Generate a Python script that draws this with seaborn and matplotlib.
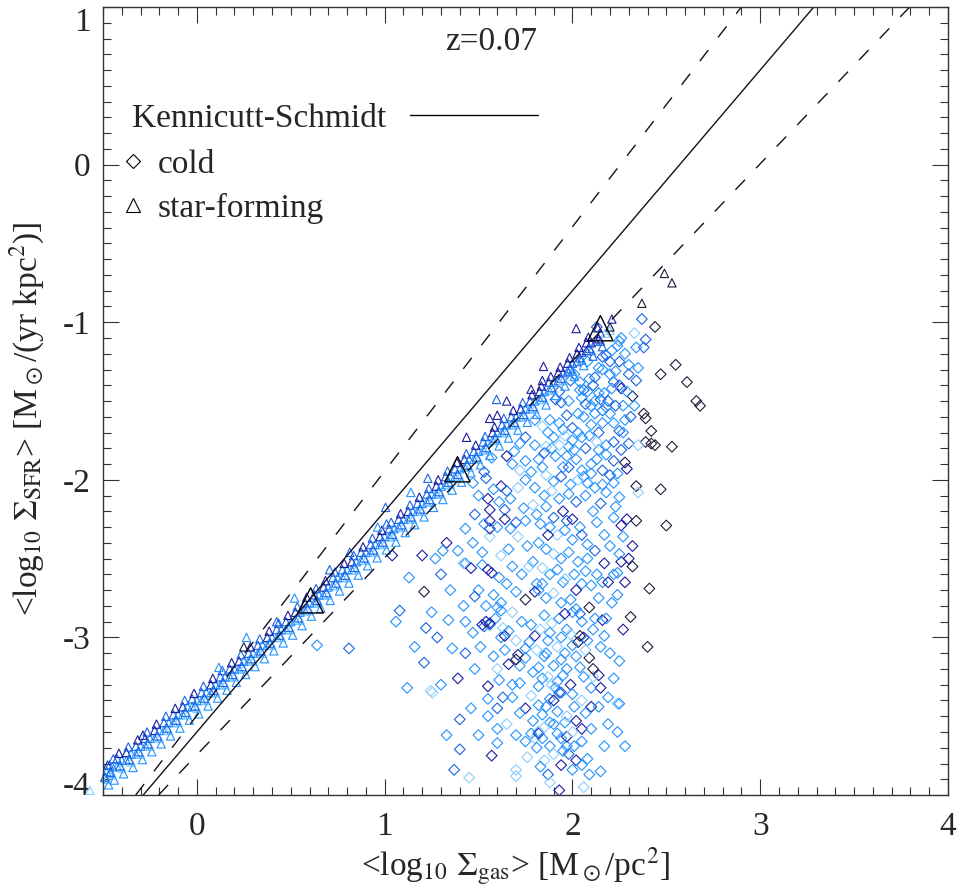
import matplotlib
matplotlib.use("Agg")
import matplotlib.pyplot as plt
from matplotlib.lines import Line2D
from matplotlib.ticker import MultipleLocator
import seaborn as sns
import pandas as pd

# colour shades used for the galaxies (light -> dark)
shade_colors = {0: "#8ccfff", 1: "#2293ff", 2: "#1a63e4", 3: "#1c1ca0", 4: "#1e1e3c"}

# Kennicutt-Schmidt relation: slope, intercept (plus the two bounding relations)
ks_slope, ks_icpt = 1.4, -3.6
ks_hi_slope, ks_hi_icpt = 1.55, -3.495
ks_lo_slope, ks_lo_icpt = 1.25, -3.745

# binned means of the star-forming gas
mean_x = [0.606, 1.388, 2.149]
mean_y = [-2.765, -1.933, -1.038]

# star-forming gas (x, y, shade)
sf_points = [
    (-0.57, -3.97, 0), (-0.49, -3.89, 1), (-0.475, -3.81, 3),
    (-0.48, -3.90, 0), (-0.48, -3.85, 1), (-0.465, -3.86, 1), (-0.465, -3.81, 2),
    (-0.45, -3.87, 0), (-0.45, -3.82, 1), (-0.425, -3.82, 1), (-0.425, -3.77, 2),
    (-0.40, -3.83, 0), (-0.40, -3.78, 1), (-0.375, -3.78, 1), (-0.375, -3.73, 3),
    (-0.35, -3.79, 0), (-0.35, -3.74, 1), (-0.325, -3.74, 1), (-0.325, -3.69, 2),
    (-0.30, -3.74, 0), (-0.30, -3.69, 1), (-0.275, -3.69, 1), (-0.275, -3.64, 2),
    (-0.25, -3.69, 0), (-0.25, -3.64, 1), (-0.225, -3.64, 1), (-0.225, -3.59, 3),
    (-0.20, -3.64, 0), (-0.20, -3.59, 1), (-0.175, -3.59, 1), (-0.175, -3.54, 2),
    (-0.15, -3.59, 0), (-0.15, -3.54, 1), (-0.125, -3.54, 1), (-0.125, -3.49, 2),
    (-0.10, -3.54, 0), (-0.10, -3.49, 1), (-0.075, -3.49, 1), (-0.075, -3.44, 3),
    (-0.05, -3.49, 0), (-0.05, -3.44, 1), (-0.025, -3.44, 1), (-0.025, -3.39, 2),
    (0.00, -3.45, 0), (0.00, -3.40, 1), (0.025, -3.40, 1), (0.025, -3.35, 2),
    (0.05, -3.40, 0), (0.05, -3.35, 1), (0.075, -3.35, 1), (0.075, -3.30, 3),
    (0.10, -3.35, 0), (0.10, -3.30, 1), (0.125, -3.30, 1), (0.125, -3.25, 2),
    (0.15, -3.30, 0), (0.15, -3.25, 1), (0.175, -3.25, 1), (0.175, -3.20, 2),
    (0.20, -3.25, 0), (0.20, -3.20, 1), (0.225, -3.20, 1), (0.225, -3.15, 3),
    (0.25, -3.20, 0), (0.25, -3.15, 1), (0.275, -3.15, 1), (0.275, -3.10, 2),
    (0.30, -3.15, 0), (0.30, -3.10, 1), (0.325, -3.10, 1), (0.325, -3.05, 2),
    (0.35, -3.10, 0), (0.35, -3.05, 1), (0.375, -3.05, 1), (0.375, -3.00, 3),
    (0.40, -3.05, 0), (0.40, -3.00, 1), (0.425, -3.00, 1), (0.425, -2.95, 2),
    (0.45, -3.00, 0), (0.45, -2.95, 1), (0.475, -2.95, 1), (0.475, -2.90, 2),
    (0.50, -2.95, 0), (0.50, -2.90, 1), (0.525, -2.89, 1), (0.525, -2.84, 3),
    (0.55, -2.89, 0), (0.55, -2.84, 1), (0.575, -2.83, 1), (0.575, -2.78, 2),
    (0.60, -2.83, 0), (0.60, -2.78, 1), (0.625, -2.78, 1), (0.625, -2.73, 2),
    (0.65, -2.78, 0), (0.65, -2.73, 1), (0.675, -2.73, 1), (0.675, -2.68, 3),
    (0.70, -2.73, 0), (0.70, -2.68, 1), (0.725, -2.67, 1), (0.725, -2.62, 2),
    (0.75, -2.67, 0), (0.75, -2.62, 1), (0.775, -2.62, 1), (0.775, -2.57, 2),
    (0.80, -2.62, 0), (0.80, -2.57, 1), (0.825, -2.57, 1), (0.825, -2.52, 3),
    (0.85, -2.57, 0), (0.85, -2.52, 1), (0.875, -2.51, 1), (0.875, -2.46, 2),
    (0.90, -2.51, 0), (0.90, -2.46, 1), (0.925, -2.46, 1), (0.925, -2.41, 2),
    (0.95, -2.46, 0), (0.95, -2.41, 1), (0.975, -2.41, 1), (0.975, -2.36, 3),
    (1.00, -2.41, 0), (1.00, -2.36, 1), (1.025, -2.36, 1), (1.025, -2.31, 2),
    (1.05, -2.36, 0), (1.05, -2.31, 1), (1.075, -2.30, 1), (1.075, -2.25, 2),
    (1.10, -2.30, 0), (1.10, -2.25, 1), (1.125, -2.25, 1), (1.125, -2.20, 3),
    (1.15, -2.25, 0), (1.15, -2.20, 1), (1.175, -2.20, 1), (1.175, -2.15, 2),
    (1.20, -2.20, 0), (1.20, -2.15, 1), (1.225, -2.14, 1), (1.225, -2.09, 2),
    (1.25, -2.14, 0), (1.25, -2.09, 1), (1.275, -2.09, 1), (1.275, -2.04, 3),
    (1.30, -2.09, 0), (1.30, -2.04, 1), (1.325, -2.03, 1), (1.325, -1.98, 2),
    (1.35, -2.03, 0), (1.35, -1.98, 1), (1.375, -1.98, 1), (1.375, -1.93, 2),
    (1.40, -1.98, 0), (1.40, -1.93, 1), (1.425, -1.92, 1), (1.425, -1.87, 3),
    (1.45, -1.92, 0), (1.45, -1.87, 1), (1.475, -1.87, 1), (1.475, -1.82, 2),
    (1.50, -1.87, 0), (1.50, -1.82, 1), (1.525, -1.81, 1), (1.525, -1.76, 2),
    (1.55, -1.81, 0), (1.55, -1.76, 1), (1.575, -1.75, 1), (1.575, -1.70, 3),
    (1.60, -1.75, 0), (1.60, -1.70, 1), (1.625, -1.70, 1), (1.625, -1.65, 2),
    (1.65, -1.70, 0), (1.65, -1.65, 1), (1.675, -1.65, 1), (1.675, -1.60, 2),
    (1.70, -1.65, 0), (1.70, -1.60, 1), (1.725, -1.60, 1), (1.725, -1.55, 3),
    (1.75, -1.60, 0), (1.75, -1.55, 1), (1.775, -1.55, 1), (1.775, -1.50, 2),
    (1.80, -1.55, 0), (1.80, -1.50, 1), (1.825, -1.49, 1), (1.825, -1.44, 3),
    (1.85, -1.49, 0), (1.85, -1.44, 1), (1.875, -1.43, 1), (1.875, -1.38, 2),
    (1.90, -1.43, 0), (1.90, -1.38, 1), (1.925, -1.37, 2), (1.925, -1.32, 3),
    (1.95, -1.37, 0), (1.95, -1.32, 2), (1.975, -1.31, 2), (1.975, -1.26, 3),
    (2.00, -1.31, 1), (2.00, -1.26, 2), (2.025, -1.25, 2), (2.025, -1.20, 3),
    (2.05, -1.24, 1), (2.05, -1.19, 2), (2.075, -1.18, 3), (2.075, -1.13, 3),
    (2.10, -1.18, 1), (2.10, -1.13, 3), (2.125, -1.12, 2), (2.15, -1.12, 2),
    (2.15, -1.07, 3), (2.20, -1.05, 0), (2.175, -1.07, 0),
    # lower and upper edges of the sequence
    (-0.47, -3.935, 1), (-0.445, -3.77, 2), (-0.49, -3.885, 2),
    (-0.44, -3.905, 1), (-0.415, -3.735, 3), (-0.46, -3.855, 2),
    (-0.39, -3.865, 1), (-0.365, -3.695, 2), (-0.41, -3.815, 2),
    (-0.34, -3.825, 1), (-0.315, -3.65, 3), (-0.36, -3.775, 2),
    (-0.29, -3.775, 1), (-0.265, -3.60, 2), (-0.31, -3.725, 2),
    (-0.24, -3.725, 1), (-0.215, -3.55, 3), (-0.26, -3.675, 2),
    (-0.19, -3.675, 1), (-0.165, -3.50, 2), (-0.21, -3.625, 2),
    (-0.14, -3.625, 1), (-0.115, -3.45, 3), (-0.16, -3.575, 2),
    (-0.09, -3.575, 1), (-0.065, -3.40, 2), (-0.11, -3.525, 2),
    (-0.04, -3.525, 1), (-0.015, -3.355, 3), (-0.06, -3.475, 2),
    (0.01, -3.485, 1), (0.035, -3.31, 2), (-0.01, -3.435, 2),
    (0.06, -3.435, 1), (0.085, -3.26, 3), (0.04, -3.385, 2),
    (0.11, -3.385, 1), (0.135, -3.21, 2), (0.09, -3.335, 2),
    (0.16, -3.335, 1), (0.185, -3.16, 3), (0.14, -3.285, 2),
    (0.21, -3.285, 1), (0.235, -3.11, 2), (0.19, -3.235, 2),
    (0.26, -3.235, 1), (0.285, -3.06, 3), (0.24, -3.185, 2),
    (0.31, -3.185, 1), (0.335, -3.01, 2), (0.29, -3.135, 2),
    (0.36, -3.135, 1), (0.385, -2.96, 3), (0.34, -3.085, 2),
    (0.41, -3.085, 1), (0.435, -2.91, 2), (0.39, -3.035, 2),
    (0.46, -3.035, 1), (0.485, -2.86, 3), (0.44, -2.985, 2),
    (0.51, -2.985, 1), (0.535, -2.805, 2), (0.49, -2.935, 2),
    (0.56, -2.925, 1), (0.585, -2.745, 3), (0.54, -2.875, 2),
    (0.61, -2.865, 1), (0.635, -2.69, 2), (0.59, -2.815, 2),
    (0.66, -2.815, 1), (0.685, -2.64, 3), (0.64, -2.765, 2),
    (0.71, -2.765, 1), (0.735, -2.585, 2), (0.69, -2.715, 2),
    (0.76, -2.705, 1), (0.785, -2.53, 3), (0.74, -2.655, 2),
    (0.81, -2.655, 1), (0.835, -2.48, 2), (0.79, -2.605, 2),
    (0.86, -2.605, 1), (0.885, -2.425, 3), (0.84, -2.555, 2),
    (0.91, -2.545, 1), (0.935, -2.37, 2), (0.89, -2.495, 2),
    (0.96, -2.495, 1), (0.985, -2.32, 3), (0.94, -2.445, 2),
    (1.01, -2.445, 1), (1.035, -2.27, 2), (0.99, -2.395, 2),
    (1.06, -2.395, 1), (1.085, -2.215, 3), (1.04, -2.345, 2),
    (1.11, -2.335, 1), (1.135, -2.16, 2), (1.09, -2.285, 2),
    (1.16, -2.285, 1), (1.185, -2.11, 3), (1.14, -2.235, 2),
    (1.21, -2.235, 1), (1.235, -2.055, 2), (1.19, -2.185, 2),
    (1.26, -2.175, 1), (1.285, -2.00, 3), (1.24, -2.125, 2),
    (1.31, -2.125, 1), (1.335, -1.945, 2), (1.29, -2.075, 2),
    (1.36, -2.065, 1), (1.385, -1.89, 3), (1.34, -2.015, 2),
    (1.41, -2.015, 1), (1.435, -1.835, 2), (1.39, -1.965, 2),
    (1.46, -1.955, 1), (1.485, -1.78, 3), (1.44, -1.905, 2),
    (1.51, -1.905, 1), (1.535, -1.725, 2), (1.49, -1.855, 2),
    (1.56, -1.845, 1), (1.585, -1.665, 3), (1.54, -1.795, 2),
    (1.61, -1.785, 1), (1.635, -1.61, 2), (1.59, -1.735, 2),
    (1.66, -1.735, 1), (1.685, -1.56, 3), (1.64, -1.685, 2),
    (1.71, -1.685, 1), (1.735, -1.51, 2), (1.69, -1.635, 2),
    (1.76, -1.635, 1), (1.785, -1.46, 3), (1.74, -1.585, 2),
    (1.81, -1.585, 1), (1.835, -1.405, 3), (1.79, -1.535, 2),
    (1.86, -1.525, 1), (1.885, -1.345, 3), (1.84, -1.475, 2),
    (1.91, -1.465, 1), (1.935, -1.285, 3), (1.89, -1.415, 2),
    (1.96, -1.405, 1), (1.985, -1.225, 3), (1.94, -1.355, 2),
    (2.01, -1.345, 1), (2.035, -1.16, 3), (1.99, -1.295, 2),
    (2.06, -1.275, 1), (2.085, -1.095, 3), (2.04, -1.225, 2),
    (2.11, -1.215, 2), (2.135, -1.035, 3), (2.09, -1.165, 2),
    (2.16, -1.155, 2), (2.14, -1.105, 3),
    # points lying above the main sequence
    (-0.287, -3.62, 3), (0.117, -3.19, 1), (0.25, -3.06, 4), (0.264, -3.00, 1),
    (0.425, -2.90, 2), (0.52, -2.75, 1), (0.707, -2.57, 2), (0.814, -2.46, 2),
    (0.963, -2.30, 1), (1.01, -2.28, 2), (1.005, -2.175, 2), (1.14, -2.08, 1),
    (1.23, -1.99, 2), (1.436, -1.73, 3), (1.559, -1.61, 3), (1.60, -1.59, 3),
    (1.596, -1.49, 2), (1.65, -1.50, 3), (1.78, -1.425, 3), (1.84, -1.37, 3),
    (1.846, -1.28, 3), (2.02, -1.04, 3), (2.21, -0.98, 3), (2.20, -1.03, 4),
    (2.37, -0.88, 4), (2.49, -0.69, 4), (2.53, -0.75, 4),
]

# cold gas (x, y, shade)
cold_points = [
    (2.37, -0.98, 2), (2.44, -1.03, 4), (2.33, -1.07, 0), (2.39, -1.11, 2), (2.38, -1.16, 2),
    (2.34, -1.16, 1), (2.26, -1.10, 1), (2.25, -1.12, 1), (2.24, -1.15, 1), (2.18, -1.21, 2),
    (2.16, -1.22, 2), (2.13, -1.03, 2), (2.08, -1.25, 1), (2.14, -1.29, 1), (2.20, -1.25, 2),
    (2.25, -1.25, 2), (2.23, -1.31, 1), (2.30, -1.27, 1), (2.35, -1.29, 1), (2.55, -1.27, 4),
    (2.47, -1.33, 4), (2.34, -1.37, 2), (2.61, -1.38, 4), (2.66, -1.50, 4), (2.68, -1.53, 4),
    (2.32, -1.47, 4), (2.27, -1.53, 1), (2.33, -1.53, 1), (2.25, -1.40, 2), (2.26, -1.42, 3),
    (2.22, -1.38, 2), (2.11, -1.40, 2), (2.09, -1.36, 1), (2.06, -1.43, 2), (2.05, -1.48, 1),
    (1.99, -1.37, 2), (2.04, -1.43, 1), (2.14, -1.45, 1), (2.15, -1.49, 2), (2.17, -1.45, 1),
    (2.19, -1.50, 2), (2.18, -1.54, 1), (2.16, -1.56, 2), (2.12, -1.50, 1), (2.10, -1.53, 1),
    (2.12, -1.58, 1), (2.07, -1.52, 2), (2.06, -1.60, 1), (2.00, -1.67, 2), (1.97, -1.59, 2),
    (1.94, -1.51, 2), (1.91, -1.49, 2), (2.22, -1.64, 1), (2.25, -1.69, 2), (2.28, -1.62, 1),
    (2.30, -1.77, 2), (2.26, -1.81, 2), (2.39, -1.76, 4), (2.42, -1.77, 4), (2.44, -1.78, 4),
    (2.53, -1.79, 4), (2.42, -1.69, 4), (2.38, -1.58, 4), (2.39, -1.61, 4), (2.35, -1.78, 0),
    (2.14, -1.70, 2), (2.18, -1.78, 1), (2.22, -1.76, 2), (2.14, -1.81, 1), (2.22, -1.88, 2),
    (2.28, -1.89, 4), (2.29, -1.93, 3), (2.16, -1.94, 2), (2.10, -1.90, 1), (2.06, -1.98, 1),
    (2.05, -1.73, 1), (2.01, -1.81, 1), (1.98, -1.79, 1), (1.95, -1.68, 1), (1.90, -1.73, 1),
    (1.87, -1.70, 1), (1.86, -1.79, 0), (1.82, -1.87, 1), (1.84, -1.92, 1), (1.91, -1.85, 1),
    (1.95, -1.92, 1), (1.98, -1.92, 2), (2.05, -1.94, 1), (1.75, -1.73, 2), (1.72, -1.77, 1),
    (1.69, -1.82, 1), (1.65, -1.85, 3), (1.68, -1.90, 1), (1.75, -1.88, 1), (1.72, -1.94, 0),
    (1.75, -2.00, 1), (1.53, -1.95, 2), (1.54, -1.99, 2), (1.62, -2.04, 3), (1.65, -2.07, 2),
    (1.61, -2.14, 1), (1.56, -2.19, 3), (1.55, -2.12, 3), (1.64, -2.19, 2), (1.67, -2.31, 1),
    (1.70, -2.27, 2), (1.74, -2.18, 1), (1.75, -2.26, 1), (1.81, -2.22, 1), (1.86, -2.17, 1),
    (1.90, -2.24, 2), (1.97, -2.26, 2), (2.04, -2.30, 1), (2.13, -2.27, 1), (2.22, -2.02, 1),
    (2.34, -2.04, 4), (2.35, -2.08, 0), (2.25, -2.11, 1), (2.23, -2.17, 1), (2.22, -2.24, 1),
    (2.29, -2.25, 3), (2.34, -2.26, 4), (2.26, -2.29, 3), (2.50, -2.29, 4), (2.47, -2.06, 4),
    (1.43, -2.31, 1), (1.33, -2.40, 3), (1.56, -2.36, 0), (1.56, -2.26, 3), (1.56, -2.31, 3),
    (1.31, -2.45, 1), (1.39, -2.45, 1), (1.20, -2.48, 3), (1.27, -2.50, 1), (1.43, -2.53, 1),
    (1.46, -2.56, 3), (1.52, -2.54, 1), (1.55, -2.57, 3), (1.57, -2.59, 3), (1.61, -2.62, 1),
    (1.21, -2.71, 4), (1.08, -2.83, 2), (1.34, -2.89, 1), (1.43, -2.90, 1), (1.50, -2.70, 1),
    (1.48, -2.74, 2), (1.58, -2.73, 1), (1.62, -2.78, 1), (1.62, -2.83, 1), (1.52, -2.92, 3),
    (1.53, -2.93, 2), (1.56, -2.92, 1), (1.63, -2.94, 0), (1.22, -2.94, 2), (1.62, -3.00, 1),
    (1.64, -2.99, 3), (1.51, -3.06, 1), (1.21, -3.16, 2), (1.39, -3.26, 3), (1.12, -3.32, 1),
    (1.245, -3.34, 0), (1.255, -3.35, 0), (1.55, -3.31, 3), (1.55, -3.39, 1), (1.61, -3.27, 1),
    (1.63, -3.38, 2), (1.55, -3.50, 1), (1.60, -3.45, 2), (1.66, -3.17, 3), (1.68, -3.30, 1),
    (1.72, -3.29, 1), (1.72, -3.18, 1), (1.75, -3.45, 3), (1.40, -3.71, 2), (1.57, -3.75, 3),
    (1.60, -3.67, 1), (1.37, -3.84, 2), (1.45, -3.89, 0), (1.70, -3.84, 0), (1.70, -3.88, 0),
    (1.75, -3.66, 1), (1.78, -3.61, 1), (1.80, -3.64, 0), (1.82, -3.61, 3), (1.84, -3.64, 1),
    (1.87, -3.87, 2), (1.94, -3.81, 3), (1.93, -3.97, 3), (2.06, -3.95, 0), (1.98, -3.74, 2),
    (2.02, -3.78, 3), (2.05, -3.81, 1), (2.08, -3.77, 1), (2.09, -3.87, 1), (1.85, -3.78, 0),
    (1.88, -3.69, 1), (1.97, -3.69, 1), (2.01, -3.69, 1), (2.05, -3.66, 1), (2.17, -3.69, 1),
    (2.28, -3.69, 1), (1.97, -3.63, 3), (1.92, -3.61, 1), (2.02, -3.53, 3), (2.05, -3.58, 3),
    (1.96, -3.54, 1), (2.01, -3.44, 1), (2.10, -3.44, 3), (2.14, -3.44, 1), (2.19, -3.38, 1),
    (2.24, -3.42, 0), (2.25, -3.42, 1), (2.22, -3.26, 1), (2.14, -3.24, 3), (2.11, -3.25, 0),
    (2.15, -3.32, 3), (2.10, -3.32, 1), (2.06, -3.25, 1), (2.04, -3.19, 1), (1.97, -3.20, 1),
    (1.94, -3.35, 2), (1.91, -3.32, 1), (1.93, -3.35, 2), (1.88, -3.39, 1), (1.82, -3.19, 1),
    (1.82, -3.31, 1), (1.82, -3.43, 1), (1.84, -3.49, 1), (1.82, -3.60, 1), (1.88, -3.54, 1),
    (2.04, -2.99, 4), (2.03, -3.03, 4), (2.16, -2.89, 3), (2.17, -2.99, 1), (2.24, -2.73, 1),
    (2.41, -2.69, 4), (2.31, -2.87, 4), (2.40, -3.06, 4), (2.15, -3.06, 1), (2.11, -2.95, 1),
    (2.09, -3.13, 4), (2.11, -3.20, 4), (2.24, -2.59, 1), (2.32, -2.55, 4), (2.30, -2.50, 3),
    (2.26, -2.52, 3), (2.17, -2.53, 3), (2.08, -2.50, 1), (2.16, -2.65, 1), (2.19, -2.65, 3),
    (2.10, -2.67, 1), (2.09, -2.81, 4), (2.14, -2.75, 1), (2.12, -2.88, 1), (2.04, -2.85, 2),
    (2.05, -2.90, 1), (2.00, -2.84, 1), (1.95, -2.65, 1), (1.80, -2.99, 3), (1.75, -3.07, 1),
    (1.75, -3.13, 1), (1.71, -3.11, 3), (1.70, -3.14, 4), (1.59, -2.88, 1), (1.60, -2.81, 1),
    (1.56, -2.91, 3), (1.54, -2.90, 3), (1.81, -2.66, 1), (1.80, -2.71, 3), (1.84, -2.66, 1),
    (1.04, -2.48, 3), (1.06, -2.90, 1), (0.64, -3.05, 1), (0.81, -3.07, 2), (1.57, -1.86, 1),
    (1.64, -2.25, 3), (1.42, -2.53, 0), (1.75, -2.76, 4),
    # dense core of the cold cloud
    (1.80, -1.62, 1), (1.84, -1.66, 0), (1.88, -1.62, 1), (1.93, -1.64, 1), (1.96, -1.72, 0),
    (2.00, -1.75, 1), (2.03, -1.70, 1), (1.80, -1.78, 1), (1.85, -1.83, 2), (1.89, -1.80, 1),
    (1.93, -1.78, 0), (1.97, -1.85, 1), (2.02, -1.87, 1), (1.78, -1.95, 1), (1.86, -1.97, 0),
    (1.90, -2.01, 1), (1.94, -1.98, 2), (1.99, -2.03, 1), (2.03, -2.00, 0), (1.80, -2.05, 1),
    (1.85, -2.10, 1), (1.89, -2.07, 0), (1.93, -2.12, 1), (1.98, -2.09, 1), (2.02, -2.14, 2),
    (2.07, -2.10, 1), (1.79, -2.16, 0), (1.83, -2.28, 1), (1.88, -2.30, 1), (1.92, -2.35, 0),
    (1.96, -2.32, 1), (2.00, -2.38, 1), (2.05, -2.35, 2), (2.08, -2.41, 1), (1.82, -2.40, 1),
    (1.86, -2.44, 1), (1.90, -2.47, 0), (1.94, -2.50, 1), (1.98, -2.46, 1), (2.03, -2.52, 1),
    (1.79, -2.52, 1), (1.84, -2.56, 0), (1.88, -2.60, 1), (1.92, -2.57, 1), (1.96, -2.63, 0),
    (2.01, -2.60, 1), (2.05, -2.66, 1), (1.82, -2.70, 1), (1.86, -2.75, 1), (1.90, -2.72, 0),
    (1.94, -2.78, 1), (1.99, -2.76, 1), (2.02, -2.82, 1), (1.85, -2.86, 1), (1.89, -2.91, 0),
    (1.93, -2.88, 1), (1.97, -2.95, 1), (1.87, -3.02, 1), (1.92, -3.06, 0), (1.96, -3.10, 1),
    (2.00, -3.05, 1), (1.85, -3.12, 1), (1.90, -3.18, 1), (1.87, -3.25, 0), (1.92, -3.28, 1),
    (2.07, -1.80, 2), (2.10, -1.96, 1), (2.12, -2.05, 1), (2.15, -2.15, 2), (2.18, -2.08, 1),
    (2.11, -2.20, 1), (2.17, -2.35, 1), (2.12, -2.45, 2), (2.20, -2.42, 1), (2.07, -2.58, 1),
    (2.13, -2.60, 1), (2.18, -2.88, 1), (1.95, -2.20, 3), (2.00, -2.25, 3), (1.87, -2.35, 3),
    (2.02, -2.70, 3), (1.96, -2.85, 3), (2.06, -3.00, 3), (1.90, -3.40, 3), (1.99, -3.30, 3),
    # lower part of the column
    (1.78, -2.92, 1), (1.83, -2.95, 0), (1.88, -2.97, 1), (1.94, -3.00, 1), (1.99, -2.98, 0),
    (2.08, -3.02, 1), (1.77, -3.03, 1), (1.81, -3.08, 0), (1.86, -3.10, 1), (1.94, -3.14, 1),
    (2.02, -3.12, 1), (2.07, -3.08, 0), (1.79, -3.22, 1), (1.84, -3.26, 1), (1.89, -3.30, 0),
    (1.95, -3.24, 1), (2.00, -3.36, 1), (2.05, -3.40, 0), (1.78, -3.37, 0), (1.86, -3.44, 1),
    (1.92, -3.47, 1), (1.97, -3.50, 0), (2.07, -3.48, 1), (1.79, -3.53, 1), (1.85, -3.57, 0),
    (1.90, -3.55, 1), (1.94, -3.64, 1), (2.00, -3.60, 0), (2.10, -3.58, 1), (1.81, -3.70, 1),
    (1.90, -3.74, 0), (1.95, -3.72, 1), (2.00, -3.84, 1), (1.88, -3.92, 0), (1.83, -3.82, 1),
    (1.76, -3.76, 0),
    # left part of the cloud
    (1.47, -2.02, 1), (1.50, -2.10, 1), (1.58, -2.06, 1), (1.67, -2.12, 1), (1.71, -2.05, 0),
    (1.48, -2.22, 2), (1.53, -2.28, 1), (1.60, -2.30, 1), (1.71, -2.36, 0), (1.76, -2.42, 1),
    (1.66, -2.44, 1), (1.62, -2.48, 0), (1.52, -2.46, 1), (1.47, -2.40, 1), (1.68, -2.55, 1),
    (1.73, -2.60, 1), (1.77, -2.55, 0), (1.65, -2.66, 1), (1.70, -2.71, 1), (1.54, -2.80, 1),
    (1.68, -2.84, 0), (1.73, -2.90, 1), (1.66, -2.96, 1), (1.70, -3.02, 0), (1.47, -2.97, 1),
    (1.43, -3.10, 2), (1.58, -3.12, 1), (1.64, -3.08, 1), (1.48, -3.20, 1), (1.60, -3.20, 0),
    (1.68, -3.38, 1), (1.72, -3.48, 1), (1.65, -3.55, 0), (1.70, -3.62, 1), (1.60, -3.58, 1),
    (1.50, -3.62, 1), (1.46, -3.45, 1), (1.40, -3.52, 2), (1.33, -3.62, 1), (1.30, -3.30, 1),
    (1.36, -3.07, 1), (1.28, -3.00, 2), (1.16, -3.06, 1), (1.42, -2.80, 1), (1.35, -2.70, 1),
    (1.30, -2.60, 2), (1.25, -2.84, 1), (1.13, -2.62, 1),
    # upper part of the cloud
    (2.01, -1.33, 1), (2.04, -1.38, 1), (2.08, -1.44, 1), (2.12, -1.35, 2), (2.16, -1.30, 1),
    (2.20, -1.33, 1), (2.21, -1.42, 1), (2.23, -1.53, 2), (2.20, -1.58, 1), (2.16, -1.64, 1),
    (2.10, -1.65, 1), (2.03, -1.58, 1), (1.98, -1.50, 1), (1.93, -1.44, 2), (2.09, -1.72, 1),
    (2.13, -1.76, 0), (2.18, -1.84, 1), (2.24, -1.96, 1), (2.20, -1.97, 2), (2.13, -1.87, 1),
    (2.08, -2.02, 1), (2.16, -2.03, 1), (2.27, -1.70, 1), (2.31, -1.60, 2), (2.29, -1.44, 1),
    (2.30, -1.33, 2), (2.21, -1.18, 1), (2.28, -1.20, 1),
    # right edge of the cloud
    (2.27, -2.36, 1), (2.32, -2.42, 3), (2.25, -2.47, 1), (2.22, -2.60, 1), (2.28, -2.65, 3),
    (2.21, -2.78, 1), (2.27, -2.95, 3), (2.20, -3.10, 1), (2.25, -3.15, 1), (2.19, -3.55, 1),
    (2.24, -3.60, 1), (2.15, -3.85, 1),
]

sns.set_style("ticks")
plt.rcParams["font.family"] = ["Liberation Serif", "DejaVu Serif"]
plt.rcParams["mathtext.fontset"] = "stix"
plt.rcParams["axes.unicode_minus"] = False
fs = 24

fig = plt.figure(figsize=(9.58, 8.88), dpi=100)
ax = fig.add_axes([0.1075, 0.1047, 0.8820, 0.8874])


def hollow_scatter(df, marker, s, lw=0.8, clip=True):
    sns.scatterplot(data=df, x="x", y="y", hue="shade", palette=shade_colors,
                    marker=marker, s=s, linewidth=lw, legend=False, ax=ax, clip_on=clip)
    pts = ax.collections[-1]
    pts.set_edgecolors(pts.get_facecolors())
    pts.set_facecolors("none")


cold_df = pd.DataFrame(cold_points, columns=["x", "y", "shade"])
sf_df = pd.DataFrame(sf_points, columns=["x", "y", "shade"])
hollow_scatter(cold_df, "D", 30)
hollow_scatter(sf_df, "^", 36, clip=False)

# big triangles (binned means)
sns.scatterplot(x=mean_x, y=mean_y, marker="^", s=330, color="k", linewidth=1.0, ax=ax, legend=False)
big = ax.collections[-1]
big.set_facecolors("none")
big.set_edgecolors("k")

# Kennicutt-Schmidt relation and its range
ax.axline((0, ks_icpt), slope=ks_slope, color="#111122", lw=1.0)
ax.axline((0, ks_hi_icpt), slope=ks_hi_slope, color="#111122", lw=1.0, ls=(0, (10, 11.5)))
ax.axline((0, ks_lo_icpt), slope=ks_lo_slope, color="#111122", lw=1.0, ls=(0, (10, 11.5)))

ax.set_xlim(-0.5, 4)
ax.set_ylim(-4, 1)
ax.xaxis.set_major_locator(MultipleLocator(1))
ax.xaxis.set_minor_locator(MultipleLocator(0.1))
ax.yaxis.set_major_locator(MultipleLocator(1))
ax.yaxis.set_minor_locator(MultipleLocator(0.1))
ax.tick_params(which="both", direction="in", top=True, right=True, color="#333333", width=0.8)
ax.tick_params(which="major", length=11.5)
ax.tick_params(which="minor", length=5.8)
ax.tick_params(axis="x", which="major", pad=12, labelsize=fs)
ax.tick_params(axis="y", which="major", pad=9, labelsize=fs)
for sp in ax.spines.values():
    sp.set_linewidth(1.0)
    sp.set_color("#333333")

ax.set_xlabel(r"<log$_{10}$ $\Sigma_{\rm gas}$> [M$_\odot$/pc$^2$]", fontsize=fs)
ax.set_ylabel(r"<log$_{10}$ $\Sigma_{\rm SFR}$> [M$_\odot$/(yr kpc$^2$)]", fontsize=fs)
ax.xaxis.set_label_coords(0.4876, -0.065)
ax.yaxis.set_label_coords(-0.066, 0.477)

ax.text(0.459, 0.956, "z=0.07", transform=ax.transAxes, ha="center", va="center", fontsize=fs)

ks_handle = [Line2D([], [], color="k", lw=1.0)]
leg1 = ax.legend(ks_handle, ["Kennicutt-Schmidt"], loc="center left", bbox_to_anchor=(0.034, 0.858),
                 frameon=False, fontsize=fs, markerfirst=False, handlelength=3.84, handletextpad=0.72,
                 borderpad=0, borderaxespad=0)
ax.add_artist(leg1)
sym_handles = [Line2D([], [], ls="none", marker="D", mfc="none", mec="k", ms=7.5, mew=0.8),
               Line2D([], [], ls="none", marker="^", mfc="none", mec="k", ms=10, mew=0.8)]
ax.legend(sym_handles, ["cold", "star-forming"], loc="center left", bbox_to_anchor=(0.024, 0.772),
          frameon=False, fontsize=fs, handlelength=0.6, handletextpad=0.42, labelspacing=0.39,
          borderpad=0, borderaxespad=0)

# end labels of the y axis sit inside the frame, as in the original
fig.canvas.draw()
for lab in ax.get_yticklabels():
    if lab.get_text() == "1":
        lab.set_verticalalignment("top")
    elif lab.get_text() == "-4":
        lab.set_verticalalignment("baseline")

fig.savefig("out.png", dpi=100)
plt.close(fig)
